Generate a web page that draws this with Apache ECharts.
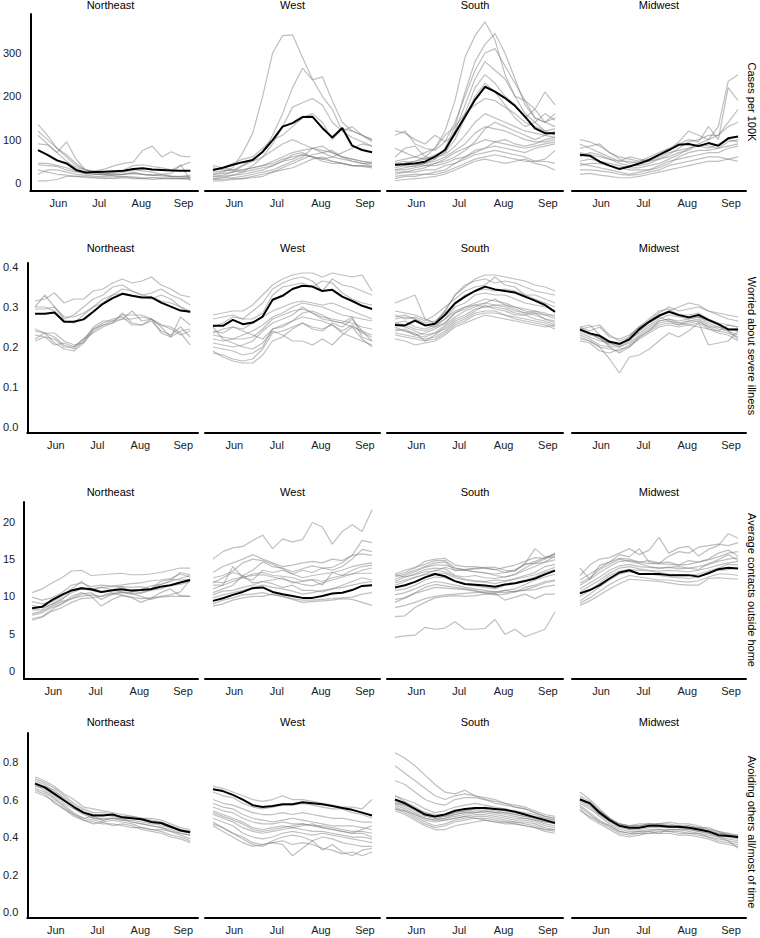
<!DOCTYPE html>
<html><head><meta charset="utf-8">
<script src="https://cdn.jsdelivr.net/npm/echarts@6/dist/echarts.min.js"></script>
<style>html,body{margin:0;padding:0;background:#fff}#c{width:760px;height:938px}</style>
</head><body><div id="c"></div>
<script>
// ---------- labels ----------
const regions = ['Northeast', 'West', 'South', 'Midwest'];
const rowLabels = ['Cases per 100K', 'Worried about severe illness', 'Average contacts outside home', 'Avoiding others all/most of time'];
const weekStarts = ['2020-05-17','2020-05-24','2020-05-31','2020-06-07','2020-06-14','2020-06-21','2020-06-28','2020-07-05','2020-07-12','2020-07-19','2020-07-26','2020-08-02','2020-08-09','2020-08-16','2020-08-23','2020-08-30','2020-09-06'];
const monthTicks = ['2020-06-01', '2020-07-01', '2020-08-01', '2020-09-01'];
const monthLabels = ['Jun', 'Jul', 'Aug', 'Sep'];
const casesTicks = [0, 100, 200, 300];
const worriedTicks = [0, 0.1, 0.2, 0.3, 0.4];
const contactsTicks = [0, 5, 10, 15, 20];
const avoidTicks = [0, 0.2, 0.4, 0.6, 0.8];

// ---------- Cases per 100K ----------
const casesNortheastAvg = [76,65,52,45,30,24,25,26,27,28,32,34,31,30,29,28,28];
const casesNortheastStates = [
 [135,110,80,60,40,30,25,20,18,20,22,20,18,16,15,14,13],
 [120,100,80,65,45,30,22,18,15,14,14,12,12,10,10,10,12],
 [110,90,70,95,55,30,25,22,20,20,25,20,18,18,15,14,15],
 [90,88,70,50,35,30,28,32,40,45,48,75,85,60,72,62,60],
 [45,45,40,35,28,22,20,20,25,30,40,42,38,35,30,40,48],
 [42,40,38,30,25,22,20,20,22,25,30,28,25,20,22,42,5],
 [20,30,30,25,20,18,15,15,18,20,22,20,18,20,15,15,18],
 [5,5,8,15,15,15,12,10,12,15,12,10,8,10,12,10,10],
 [30,25,20,18,15,12,12,12,10,12,10,10,12,12,10,10,8]
];
const casesWestAvg = [30,35,42,48,53,72,99,130,138,152,153,127,105,127,86,76,71];
const casesWestStates = [
 [20,25,35,70,115,200,300,340,342,290,240,200,170,120,105,95,85],
 [15,18,25,40,55,70,110,160,220,265,238,245,190,140,120,110,100],
 [10,12,18,25,40,60,90,130,175,185,195,180,140,120,130,110,95],
 [30,35,45,55,60,80,100,110,130,150,160,140,100,125,120,110,100],
 [25,28,30,40,50,60,75,90,100,90,80,70,60,55,50,45,40],
 [20,22,25,30,35,40,50,60,70,75,80,75,70,60,55,50,48],
 [15,15,18,20,25,30,40,50,55,65,60,50,45,45,40,40,38],
 [10,12,12,15,20,25,30,40,50,60,80,85,70,60,50,45,45],
 [5,5,8,10,12,15,25,35,45,55,65,70,75,60,55,50,45],
 [40,35,30,30,35,40,45,55,60,65,60,55,50,45,40,40,38],
 [8,8,10,10,15,20,25,30,35,45,55,60,50,45,40,38,35],
 [35,30,28,25,30,35,40,50,65,70,60,55,60,70,80,90,85]
];
const casesSouthAvg = [42,43,45,49,61,76,115,153,192,222,211,196,178,153,126,115,115];
const casesSouthStates = [
 [40,45,50,60,80,120,190,290,340,372,330,250,200,160,140,120,110],
 [30,35,40,45,55,80,130,210,280,320,345,300,240,180,150,140,130],
 [120,115,100,90,110,95,140,200,260,300,310,270,230,190,170,210,180],
 [60,80,85,60,55,70,120,180,240,280,260,240,200,190,150,140,160],
 [110,120,90,80,75,95,110,160,220,250,230,200,180,150,170,140,150],
 [80,70,60,55,65,70,100,150,200,230,210,180,150,130,140,160,145],
 [50,55,60,70,80,110,130,160,180,195,190,175,160,140,130,120,125],
 [40,45,50,55,60,65,85,110,140,160,150,140,130,120,115,110,120],
 [35,40,38,45,50,60,75,90,115,130,125,120,110,100,95,95,100],
 [20,25,30,35,45,55,70,80,90,100,95,90,85,80,85,90,95],
 [10,15,15,20,25,30,45,60,75,80,85,80,75,70,80,85,90],
 [25,25,25,30,30,40,45,55,65,70,75,70,65,60,50,55,75],
 [15,18,20,20,20,25,35,45,55,60,65,60,55,50,50,50,45],
 [30,30,35,40,45,50,60,75,95,125,140,130,120,110,100,110,105],
 [45,50,45,40,40,45,55,60,70,80,95,100,90,85,90,100,105],
 [5,8,10,12,15,20,30,40,50,55,50,45,50,55,45,40,30]
];
const casesMidwestAvg = [65,63,49,40,32,38,45,53,65,76,88,90,85,92,86,103,107];
const casesMidwestStates = [
 [100,95,85,70,55,45,50,55,65,75,95,120,110,100,130,235,250],
 [80,85,90,70,60,55,50,60,70,80,90,100,95,130,100,220,190],
 [60,70,65,55,45,40,40,45,55,65,80,95,100,110,110,140,170],
 [90,80,70,60,50,50,45,50,60,70,75,80,90,100,110,130,140],
 [50,55,50,45,40,35,35,40,45,55,65,80,85,80,90,100,95],
 [40,45,45,40,35,30,30,30,35,45,60,70,75,75,80,85,90],
 [45,40,35,30,25,20,25,30,40,50,55,60,65,70,70,80,85],
 [30,30,28,25,20,18,20,25,30,40,45,50,55,60,60,55,60],
 [20,22,18,15,12,12,15,20,25,30,35,40,45,50,50,55,50],
 [70,65,60,55,50,60,55,50,55,60,70,75,90,85,80,95,100]
];

// ---------- Worried about severe illness ----------
const worriedNortheastAvg = [0.283,0.283,0.286,0.263,0.263,0.269,0.288,0.308,0.322,0.333,0.328,0.324,0.324,0.311,0.301,0.291,0.288];
const worriedNortheastStates = [
 [0.315,0.32,0.335,0.31,0.32,0.32,0.34,0.345,0.36,0.37,0.36,0.365,0.375,0.355,0.345,0.33,0.325],
 [0.30,0.33,0.30,0.27,0.28,0.30,0.32,0.33,0.35,0.355,0.34,0.33,0.335,0.345,0.33,0.32,0.305],
 [0.295,0.295,0.30,0.275,0.275,0.285,0.30,0.32,0.33,0.345,0.34,0.33,0.325,0.315,0.31,0.30,0.285],
 [0.30,0.30,0.29,0.265,0.26,0.28,0.30,0.31,0.33,0.335,0.33,0.325,0.32,0.33,0.32,0.30,0.29],
 [0.245,0.235,0.235,0.215,0.205,0.21,0.245,0.26,0.27,0.275,0.255,0.255,0.27,0.235,0.225,0.24,0.245],
 [0.24,0.235,0.225,0.205,0.195,0.215,0.25,0.265,0.265,0.27,0.29,0.265,0.27,0.255,0.25,0.235,0.205],
 [0.23,0.225,0.22,0.20,0.20,0.22,0.245,0.255,0.265,0.28,0.28,0.28,0.27,0.25,0.225,0.275,0.255],
 [0.22,0.235,0.21,0.195,0.19,0.21,0.24,0.255,0.26,0.285,0.26,0.255,0.265,0.24,0.23,0.25,0.225],
 [0.215,0.225,0.205,0.21,0.20,0.22,0.235,0.25,0.26,0.27,0.27,0.275,0.27,0.255,0.245,0.23,0.24]
];
const worriedWestAvg = [0.253,0.253,0.268,0.257,0.261,0.276,0.318,0.328,0.345,0.353,0.351,0.340,0.343,0.326,0.315,0.303,0.295];
const worriedWestStates = [
 [0.28,0.285,0.29,0.29,0.305,0.33,0.355,0.37,0.38,0.385,0.385,0.375,0.385,0.38,0.375,0.38,0.34],
 [0.27,0.275,0.28,0.27,0.29,0.31,0.345,0.36,0.37,0.375,0.365,0.34,0.37,0.355,0.35,0.34,0.33],
 [0.25,0.26,0.275,0.27,0.27,0.285,0.33,0.35,0.355,0.36,0.35,0.365,0.36,0.335,0.32,0.31,0.305],
 [0.24,0.235,0.25,0.245,0.26,0.275,0.29,0.30,0.31,0.315,0.31,0.305,0.31,0.30,0.29,0.28,0.27],
 [0.23,0.225,0.22,0.23,0.24,0.255,0.275,0.285,0.30,0.31,0.305,0.30,0.29,0.28,0.275,0.27,0.265],
 [0.22,0.215,0.22,0.22,0.225,0.245,0.27,0.28,0.29,0.295,0.285,0.275,0.27,0.265,0.26,0.25,0.245],
 [0.21,0.205,0.20,0.205,0.215,0.24,0.26,0.27,0.28,0.30,0.285,0.27,0.265,0.26,0.275,0.225,0.215],
 [0.20,0.195,0.19,0.18,0.185,0.20,0.245,0.255,0.265,0.275,0.27,0.265,0.255,0.24,0.255,0.235,0.225],
 [0.185,0.18,0.17,0.165,0.17,0.195,0.235,0.24,0.25,0.26,0.25,0.245,0.255,0.235,0.225,0.215,0.205],
 [0.19,0.175,0.165,0.16,0.16,0.18,0.215,0.225,0.245,0.26,0.245,0.24,0.26,0.25,0.27,0.24,0.215],
 [0.235,0.245,0.25,0.24,0.23,0.22,0.245,0.25,0.265,0.285,0.29,0.28,0.265,0.26,0.25,0.24,0.23],
 [0.25,0.22,0.21,0.20,0.195,0.21,0.24,0.23,0.215,0.215,0.205,0.22,0.205,0.23,0.25,0.22,0.20]
];
const worriedSouthAvg = [0.255,0.254,0.266,0.254,0.258,0.280,0.309,0.326,0.340,0.351,0.344,0.340,0.336,0.326,0.316,0.305,0.288];
const worriedSouthStates = [
 [0.31,0.32,0.33,0.27,0.26,0.29,0.33,0.35,0.37,0.38,0.38,0.375,0.37,0.365,0.355,0.35,0.34],
 [0.29,0.285,0.28,0.27,0.26,0.29,0.33,0.355,0.365,0.37,0.36,0.365,0.36,0.35,0.34,0.335,0.33],
 [0.28,0.27,0.275,0.265,0.28,0.30,0.32,0.34,0.35,0.355,0.375,0.355,0.35,0.33,0.32,0.31,0.30],
 [0.27,0.275,0.27,0.255,0.25,0.27,0.30,0.31,0.33,0.335,0.33,0.33,0.32,0.31,0.305,0.30,0.29],
 [0.26,0.255,0.245,0.24,0.25,0.26,0.285,0.30,0.31,0.32,0.315,0.31,0.30,0.295,0.29,0.285,0.275],
 [0.255,0.25,0.24,0.23,0.235,0.255,0.275,0.29,0.30,0.31,0.305,0.305,0.295,0.285,0.28,0.27,0.26],
 [0.245,0.24,0.235,0.215,0.23,0.25,0.27,0.28,0.295,0.30,0.30,0.295,0.285,0.28,0.27,0.265,0.255],
 [0.24,0.245,0.23,0.225,0.235,0.245,0.265,0.275,0.29,0.305,0.295,0.29,0.28,0.28,0.285,0.27,0.265],
 [0.235,0.23,0.225,0.22,0.225,0.24,0.26,0.27,0.285,0.29,0.29,0.28,0.275,0.27,0.265,0.26,0.25],
 [0.23,0.225,0.22,0.215,0.22,0.235,0.255,0.265,0.28,0.285,0.285,0.28,0.27,0.265,0.26,0.255,0.245],
 [0.26,0.265,0.25,0.245,0.255,0.27,0.29,0.30,0.305,0.31,0.32,0.305,0.30,0.29,0.285,0.28,0.27],
 [0.25,0.24,0.23,0.235,0.245,0.26,0.285,0.295,0.305,0.30,0.305,0.30,0.29,0.285,0.29,0.28,0.28],
 [0.275,0.28,0.27,0.26,0.265,0.285,0.31,0.33,0.34,0.345,0.34,0.345,0.34,0.33,0.33,0.32,0.31],
 [0.22,0.215,0.205,0.21,0.215,0.23,0.25,0.26,0.27,0.28,0.275,0.27,0.265,0.26,0.255,0.25,0.255]
];
const worriedMidwestAvg = [0.244,0.234,0.228,0.213,0.208,0.219,0.244,0.263,0.278,0.288,0.280,0.274,0.280,0.268,0.257,0.244,0.244];
const worriedMidwestStates = [
 [0.25,0.24,0.25,0.225,0.22,0.23,0.25,0.265,0.285,0.30,0.29,0.295,0.30,0.29,0.28,0.27,0.265],
 [0.245,0.25,0.255,0.23,0.215,0.225,0.25,0.27,0.29,0.295,0.28,0.28,0.285,0.27,0.26,0.255,0.25],
 [0.24,0.235,0.22,0.21,0.20,0.215,0.24,0.255,0.27,0.28,0.275,0.27,0.275,0.265,0.255,0.245,0.24],
 [0.235,0.225,0.215,0.21,0.205,0.22,0.235,0.25,0.265,0.27,0.265,0.27,0.275,0.26,0.25,0.245,0.245],
 [0.23,0.22,0.205,0.20,0.20,0.21,0.23,0.245,0.26,0.265,0.26,0.265,0.27,0.255,0.245,0.24,0.23],
 [0.225,0.215,0.20,0.195,0.19,0.205,0.225,0.24,0.255,0.26,0.255,0.26,0.265,0.25,0.24,0.235,0.225],
 [0.215,0.21,0.19,0.185,0.195,0.20,0.22,0.235,0.25,0.255,0.25,0.255,0.26,0.245,0.235,0.23,0.215],
 [0.22,0.215,0.20,0.17,0.135,0.175,0.18,0.195,0.215,0.235,0.225,0.24,0.26,0.205,0.21,0.215,0.24],
 [0.245,0.235,0.22,0.205,0.205,0.225,0.25,0.26,0.275,0.265,0.255,0.265,0.265,0.25,0.25,0.24,0.22],
 [0.25,0.255,0.23,0.215,0.205,0.22,0.245,0.265,0.28,0.29,0.30,0.31,0.305,0.29,0.285,0.28,0.275],
 [0.24,0.23,0.225,0.20,0.185,0.20,0.225,0.24,0.265,0.27,0.26,0.255,0.25,0.245,0.24,0.255,0.25]
];

// ---------- Average contacts outside home ----------
const contactsNortheastAvg = [8.4,8.6,9.5,10.2,10.8,11.1,10.95,10.6,10.8,10.95,10.8,10.85,10.95,11.3,11.5,11.85,12.2];
const contactsNortheastStates = [
 [10.5,11,11.8,12.5,13.4,13.5,12.8,12.9,13,13.1,12.9,12.9,13,13.2,13.5,13.8,13.8],
 [9.9,9.5,9.8,10.5,11.5,11.8,11.3,11.5,11.4,11.5,11.7,11.8,12.1,12.2,12.4,13,12.6],
 [9.3,9,9.3,10,11,12,11,11.2,11.3,11.3,11.2,11.3,11,11.6,12.1,13.2,12.9],
 [8.2,8.2,9,9.7,10.5,11,10.8,10.5,10.8,11.3,10.7,10.5,11,12,12.3,12.2,12.3],
 [7.7,8,8.7,9.3,9.7,10.3,10.5,9.6,10.2,10.5,10.3,10.4,10.8,11,11.5,11.6,12],
 [7.5,7.8,8.5,9,10,10.5,10,8.7,9.5,10.1,9.9,9.2,9.7,10.5,11,10.1,10],
 [7,7.3,8.2,9,9.7,10,10.2,10,10.5,10.2,9.9,9.7,9.8,9.9,10,10,10],
 [6.8,7.2,8,8.5,9.2,9.7,9.8,10,10.3,10.6,10.4,10,9.6,10,10.2,10.6,12.2],
 [8.8,8.5,8.9,9.5,10.8,11.2,10.8,11.2,10.9,10.6,10.5,10.9,11.4,11.6,12,12.4,12.8]
];
const contactsWestAvg = [9.4,9.75,10.2,10.6,11.1,11.2,10.6,10.3,10.05,9.8,9.8,10.05,10.4,10.5,10.85,11.4,11.5];
const contactsWestStates = [
 [15,16,16.5,16.7,17.5,18.2,16.4,17.7,17.3,17.6,19.9,19.3,17,18.7,19.6,18.7,21.6],
 [13.2,14,14.5,15,15.6,15,14.5,14,14.2,14.5,14.7,14.5,15,14.8,15.5,17.5,17.2],
 [12.5,12.8,13.4,14.5,15,14.8,14.3,13.7,13,13.5,13.2,13.8,13.5,14,15,16.3,16],
 [11.8,12.5,13.2,12.8,13.5,14.6,14,13.8,13.3,13.7,14.1,13.8,13.9,14.5,15.5,15.7,15.5],
 [11.5,11.5,14,12.5,12.2,13.5,13.2,13.5,13,12.5,12.8,13,13.2,13.5,14,14.3,14.5],
 [11,11.5,12,12.5,13,13.2,12.8,12.7,12.5,12.1,12.3,12,12.5,12.8,13.5,14,14.2],
 [10.5,11,11.5,12.8,11.8,12,12.2,12.5,11.8,12,12.2,11.5,13.2,12.8,13,13.5,13.8],
 [10.2,10.7,10.8,11.2,11.5,12,11.7,11.2,11.5,10.8,10.8,10.6,11,11.5,12,12.5,12.2],
 [9.8,10.2,10.5,10.8,11.2,11.5,11.2,11,10.7,10.3,10.5,10.8,11,11.2,11.5,11.8,12],
 [9,9.5,9.8,10.2,10.3,10.5,10.2,10,9.7,9.5,9.5,9.6,9.7,9.8,9.9,10.3,10.5],
 [8.7,9,9.5,9.8,10,10,10.3,10,9.6,9.2,9.3,9.4,9.5,9.7,9.6,9.2,8.8],
 [12,11.8,12.3,12.6,12.8,12.9,12.6,12.3,12,11.6,11.4,11.8,12.2,12.6,13,13.1,13.1]
];
const contactsSouthAvg = [11.2,11.5,11.95,12.55,13,12.7,12.05,11.65,11.55,11.45,11.3,11.6,11.75,12.05,12.4,12.95,13.45];
const contactsSouthStates = [
 [4.5,4.7,4.8,5.85,5.6,5.75,6.6,5.6,5.6,5.7,6.9,4.9,5.6,4.6,5.1,5.6,7.95],
 [7.3,7.4,8.5,9.2,9.8,10,10.1,10,10.1,10.3,10.4,9.5,9.9,10.3,9.7,10.3,10.3],
 [8.5,8.8,9.2,9.7,10,10.2,10.3,10.4,10.5,10.6,10.6,10.5,10.7,10.8,10.9,11.3,11.5],
 [9.6,9.8,10.4,10.8,11.2,11.1,11,10.9,10.7,10.5,10.4,10.8,10.6,11.2,11.5,12,12.2],
 [10.2,10.5,11,11.6,12,11.8,11.5,11.2,11,10.8,10.6,10.8,11,11.6,12.2,12.6,13],
 [10.8,11,11.5,12.2,12.6,12.5,12,11.6,11.4,11.2,11,11.5,11.8,12.2,12.6,13.2,13.6],
 [11.5,12,12.5,13,13.5,13.3,12.7,12.3,12.1,12,12.2,12.1,12.4,12.8,13.2,14,14.3],
 [12,12.6,13,13.6,13.8,13.7,12.8,12.6,12.8,12.5,12.4,12.6,12.9,13.5,14,14.6,15.4],
 [12.6,13,13.5,14,14.5,14.6,13.5,13.5,13.3,13.2,12.8,12.6,13,13.8,14.5,15,15.8],
 [13,13.5,13.9,14.3,14.8,14.8,13.8,13.6,13.8,13.9,13.9,13.5,13.4,14.4,16.4,15.3,15.2],
 [12.3,12.8,13.3,13.9,14.2,14.2,13.8,13.5,13.3,13.1,13,13.2,13.6,14.2,14.7,15.2,15.7],
 [12.8,13.2,13.8,14.7,15,15.1,14.2,14,14,13.8,13.6,13.9,14.2,14.7,15.2,15.1,15.6],
 [11.8,12.2,12.6,12.9,13.1,13.1,12.5,12.2,12,11.9,11.7,12,12.3,12.6,12.9,13.4,13.9],
 [12.9,12.6,12.9,13.3,13.4,13.9,13.5,13.6,13.7,13.8,13.6,13.2,13.4,14.4,14.4,14.6,14.9],
 [9.2,9.8,10.5,11.2,11.6,11.4,11.2,11,10.8,10.4,10.2,10.3,10.6,10.9,11.3,11.8,12.1]
];
const contactsMidwestAvg = [10.4,10.85,11.5,12.4,13.2,13.5,13,13,13,12.85,12.85,12.85,12.65,13.1,13.65,13.85,13.75];
const contactsMidwestStates = [
 [12.8,14.2,15,15.2,15.8,16.4,15.6,16.2,17.9,15.8,16.5,16.7,15.4,16.3,16.8,18.4,17.8],
 [13.8,12.3,14.2,14.6,15.6,15.3,16.4,14.6,14.4,15.4,16,15.8,16.6,16.8,17,16.8,17.2],
 [11.5,12.3,13.2,14,14.7,14.8,14.6,14.4,14.4,14.3,14.2,14.3,14.6,14.9,15.3,15.8,16],
 [11,11.8,12.6,13.5,14.1,14.3,14,13.9,13.8,13.9,13.7,13.8,14,14.3,14.7,15,15.2],
 [10.6,11.4,12.2,13.1,13.8,14,13.7,13.5,13.4,13.5,13.4,13.3,13.5,13.8,14.2,14.5,14.7],
 [10,10.8,11.8,12.8,13.4,13.6,13.5,13.4,13.2,13,12.9,12.8,13,13.4,13.8,14.3,14.2],
 [9.4,10.3,11.3,12.2,13,13.3,13.1,13,12.8,12.6,12.5,12.4,12.6,13.2,13.5,13.6,13.8],
 [9.1,9.8,10.7,11.6,12.3,12.8,12.6,12.4,12.2,12.2,12,11.9,12.1,12.6,13,13,12.8],
 [8.8,9.4,10.2,11,11.7,12.3,12.2,12.1,12,11.8,11.6,11.5,11.5,12.4,12.5,12.4,12.3],
 [11.8,12.5,13.6,14.3,15,14.7,14.4,14,13.8,13.9,14,13.8,13.6,14.4,14.9,15.6,14.8],
 [12.2,13,13.8,14.6,15.1,15,14.6,14.8,14.5,14.6,14.2,14.8,14.6,15,15.8,16.2,15.4]
];

// ---------- Avoiding others all/most of time ----------
const avoidNortheastAvg = [0.685,0.665,0.63,0.595,0.56,0.53,0.515,0.515,0.52,0.505,0.50,0.495,0.48,0.475,0.455,0.435,0.425];
const avoidNortheastStates = [
 [0.71,0.69,0.66,0.62,0.58,0.55,0.53,0.53,0.52,0.51,0.51,0.50,0.49,0.48,0.46,0.44,0.43],
 [0.69,0.67,0.65,0.60,0.56,0.53,0.50,0.50,0.50,0.49,0.49,0.48,0.47,0.47,0.45,0.43,0.42],
 [0.67,0.66,0.62,0.58,0.55,0.52,0.50,0.49,0.50,0.49,0.48,0.47,0.46,0.45,0.44,0.42,0.41],
 [0.72,0.70,0.67,0.63,0.60,0.56,0.55,0.54,0.53,0.52,0.51,0.50,0.50,0.49,0.47,0.45,0.44],
 [0.66,0.64,0.60,0.57,0.53,0.50,0.49,0.48,0.49,0.48,0.47,0.45,0.44,0.44,0.43,0.41,0.39],
 [0.68,0.65,0.61,0.56,0.52,0.50,0.51,0.49,0.50,0.50,0.48,0.47,0.46,0.45,0.43,0.42,0.41],
 [0.64,0.62,0.59,0.55,0.52,0.49,0.48,0.47,0.47,0.46,0.45,0.45,0.44,0.43,0.41,0.40,0.38],
 [0.70,0.68,0.64,0.61,0.57,0.54,0.52,0.52,0.51,0.50,0.50,0.49,0.48,0.46,0.45,0.44,0.43],
 [0.65,0.63,0.58,0.55,0.51,0.49,0.47,0.48,0.46,0.47,0.46,0.44,0.43,0.42,0.40,0.39,0.37]
];
const avoidWestAvg = [0.655,0.645,0.625,0.60,0.57,0.56,0.565,0.575,0.575,0.585,0.58,0.575,0.565,0.555,0.545,0.53,0.515];
const avoidWestStates = [
 [0.67,0.66,0.64,0.62,0.60,0.59,0.60,0.62,0.60,0.60,0.59,0.58,0.57,0.56,0.56,0.55,0.60],
 [0.64,0.62,0.61,0.58,0.56,0.55,0.56,0.57,0.57,0.58,0.57,0.56,0.55,0.55,0.53,0.52,0.50],
 [0.60,0.58,0.57,0.55,0.53,0.52,0.52,0.53,0.52,0.53,0.52,0.51,0.50,0.50,0.49,0.48,0.48],
 [0.56,0.54,0.53,0.50,0.48,0.47,0.47,0.48,0.47,0.47,0.46,0.46,0.45,0.44,0.43,0.43,0.42],
 [0.54,0.52,0.50,0.48,0.45,0.44,0.45,0.46,0.45,0.46,0.47,0.45,0.44,0.43,0.42,0.42,0.40],
 [0.52,0.50,0.48,0.45,0.43,0.42,0.43,0.44,0.45,0.44,0.43,0.43,0.42,0.41,0.40,0.40,0.39],
 [0.50,0.48,0.46,0.42,0.40,0.39,0.40,0.42,0.43,0.42,0.41,0.42,0.41,0.40,0.39,0.38,0.37],
 [0.48,0.45,0.42,0.39,0.36,0.35,0.38,0.40,0.41,0.40,0.38,0.40,0.39,0.37,0.36,0.35,0.35],
 [0.46,0.43,0.40,0.37,0.35,0.36,0.37,0.36,0.30,0.34,0.38,0.33,0.36,0.32,0.30,0.33,0.34],
 [0.58,0.56,0.55,0.52,0.50,0.49,0.48,0.49,0.50,0.49,0.48,0.47,0.46,0.46,0.46,0.45,0.44],
 [0.53,0.51,0.49,0.47,0.44,0.43,0.44,0.45,0.46,0.47,0.46,0.45,0.44,0.43,0.42,0.44,0.46],
 [0.47,0.45,0.42,0.40,0.37,0.36,0.37,0.38,0.36,0.37,0.36,0.34,0.33,0.31,0.32,0.30,0.32]
];
const avoidSouthAvg = [0.60,0.58,0.55,0.52,0.51,0.52,0.54,0.55,0.555,0.555,0.55,0.545,0.535,0.52,0.505,0.49,0.475];
const avoidSouthStates = [
 [0.85,0.82,0.78,0.73,0.68,0.64,0.63,0.65,0.62,0.60,0.59,0.58,0.56,0.55,0.53,0.51,0.50],
 [0.78,0.74,0.70,0.66,0.62,0.60,0.62,0.63,0.62,0.61,0.60,0.58,0.57,0.56,0.54,0.52,0.51],
 [0.70,0.68,0.64,0.60,0.58,0.57,0.60,0.61,0.61,0.60,0.58,0.57,0.56,0.55,0.53,0.51,0.50],
 [0.62,0.60,0.58,0.55,0.53,0.54,0.56,0.57,0.58,0.57,0.56,0.55,0.54,0.53,0.52,0.50,0.49],
 [0.60,0.58,0.55,0.52,0.50,0.51,0.53,0.54,0.55,0.55,0.54,0.53,0.52,0.51,0.50,0.48,0.47],
 [0.58,0.56,0.53,0.50,0.49,0.50,0.52,0.53,0.53,0.54,0.53,0.52,0.51,0.50,0.49,0.47,0.46],
 [0.57,0.55,0.52,0.49,0.48,0.49,0.50,0.51,0.52,0.52,0.51,0.50,0.49,0.49,0.48,0.46,0.45],
 [0.56,0.54,0.51,0.48,0.46,0.47,0.49,0.50,0.51,0.51,0.50,0.49,0.48,0.48,0.47,0.45,0.44],
 [0.55,0.53,0.50,0.47,0.45,0.46,0.48,0.49,0.50,0.50,0.49,0.48,0.48,0.47,0.46,0.44,0.43],
 [0.54,0.52,0.49,0.46,0.44,0.44,0.46,0.47,0.48,0.49,0.48,0.47,0.47,0.46,0.45,0.43,0.42],
 [0.58,0.57,0.54,0.51,0.50,0.50,0.51,0.52,0.53,0.53,0.52,0.51,0.50,0.50,0.49,0.48,0.48],
 [0.62,0.59,0.56,0.53,0.51,0.51,0.52,0.53,0.54,0.54,0.53,0.53,0.52,0.51,0.50,0.49,0.48],
 [0.55,0.54,0.52,0.50,0.49,0.49,0.50,0.51,0.50,0.49,0.48,0.48,0.47,0.46,0.45,0.44,0.44],
 [0.59,0.57,0.55,0.53,0.52,0.52,0.53,0.54,0.55,0.56,0.55,0.54,0.53,0.52,0.51,0.50,0.49]
];
const avoidMidwestAvg = [0.60,0.58,0.53,0.49,0.46,0.45,0.45,0.46,0.46,0.455,0.455,0.45,0.44,0.43,0.41,0.405,0.40];
const avoidMidwestStates = [
 [0.64,0.60,0.55,0.50,0.47,0.46,0.46,0.47,0.47,0.47,0.46,0.46,0.45,0.44,0.42,0.42,0.41],
 [0.62,0.59,0.54,0.50,0.47,0.46,0.47,0.47,0.46,0.46,0.46,0.45,0.45,0.43,0.42,0.41,0.40],
 [0.60,0.58,0.53,0.49,0.46,0.45,0.45,0.46,0.46,0.46,0.45,0.45,0.44,0.43,0.42,0.41,0.40],
 [0.59,0.56,0.52,0.48,0.45,0.44,0.44,0.45,0.45,0.45,0.45,0.44,0.43,0.42,0.41,0.40,0.39],
 [0.58,0.55,0.51,0.47,0.44,0.43,0.43,0.44,0.44,0.44,0.44,0.43,0.42,0.41,0.40,0.39,0.38],
 [0.57,0.53,0.49,0.46,0.43,0.42,0.42,0.43,0.44,0.43,0.43,0.42,0.42,0.40,0.39,0.38,0.37],
 [0.56,0.52,0.48,0.45,0.42,0.41,0.42,0.42,0.43,0.43,0.42,0.42,0.41,0.40,0.38,0.37,0.36],
 [0.55,0.50,0.47,0.44,0.41,0.40,0.41,0.42,0.42,0.42,0.41,0.41,0.40,0.39,0.37,0.36,0.35],
 [0.60,0.57,0.52,0.49,0.47,0.46,0.46,0.47,0.47,0.48,0.47,0.47,0.46,0.44,0.43,0.41,0.41],
 [0.61,0.58,0.54,0.50,0.46,0.44,0.45,0.46,0.47,0.46,0.45,0.46,0.45,0.45,0.43,0.42,0.39],
 [0.54,0.51,0.48,0.46,0.43,0.42,0.43,0.43,0.42,0.44,0.44,0.44,0.43,0.42,0.40,0.38,0.34]
];

// ---------- layout ----------
const FONT = '"Liberation Sans", Arial, Helvetica, sans-serif';
const colLeft = [23, 205, 387, 572];
const colWidth = [175, 175, 176, 174];
const rowTop = [14, 263, 502, 733];
const rowBottom = [191, 433, 679, 918];
const rowMin = [-18.6, -0.015, -1.07, -0.032];
const rowMax = [390, 0.41, 22.65, 0.955];
const titleY = [5, 247.5, 491.5, 722];
const rowLabelY = [102, 346, 590, 832];
const rowTicks = [casesTicks, worriedTicks, contactsTicks, avoidTicks];
const rowFmt = [v => String(Math.round(v)), v => v.toFixed(1), v => String(Math.round(v)), v => v.toFixed(1)];
const panels = [
  [[casesNortheastStates, casesNortheastAvg], [casesWestStates, casesWestAvg], [casesSouthStates, casesSouthAvg], [casesMidwestStates, casesMidwestAvg]],
  [[worriedNortheastStates, worriedNortheastAvg], [worriedWestStates, worriedWestAvg], [worriedSouthStates, worriedSouthAvg], [worriedMidwestStates, worriedMidwestAvg]],
  [[contactsNortheastStates, contactsNortheastAvg], [contactsWestStates, contactsWestAvg], [contactsSouthStates, contactsSouthAvg], [contactsMidwestStates, contactsMidwestAvg]],
  [[avoidNortheastStates, avoidNortheastAvg], [avoidWestStates, avoidWestAvg], [avoidSouthStates, avoidSouthAvg], [avoidMidwestStates, avoidMidwestAvg]]
];

const toTime = d => +new Date(d + 'T00:00:00');
const t0 = toTime(weekStarts[0]);
const t1 = toTime(weekStarts[weekStarts.length - 1]);
const pad = (t1 - t0) * 0.05;
const monthTimes = monthTicks.map(toTime);
const toPairs = arr => arr.map((v, i) => [toTime(weekStarts[i]), v]);
const monthName = v => { let b = 0, bd = Infinity; monthTimes.forEach((m, i) => { const d = Math.abs(m - v); if (d < bd) { bd = d; b = i; } }); return monthLabels[b]; };

const grid = [], xAxis = [], yAxis = [], series = [], graphic = [];
for (let r = 0; r < 4; r++) {
  for (let c = 0; c < 4; c++) {
    const idx = r * 4 + c;
    grid.push({ left: colLeft[c], top: rowTop[r], width: colWidth[c], height: rowBottom[r] - rowTop[r], containLabel: false });
    xAxis.push({
      type: 'value', gridIndex: idx, min: t0 - pad, max: t1 + pad, scale: true,
      axisLine: { show: true, onZero: false, lineStyle: { color: '#000', width: 2 } },
      axisTick: { show: false }, splitLine: { show: false },
      axisLabel: { customValues: monthTimes, formatter: monthName, color: '#1a1a1a', fontSize: 11, fontFamily: FONT, margin: 6, showMinLabel: true, showMaxLabel: true }
    });
    yAxis.push({
      type: 'value', gridIndex: idx, min: rowMin[r], max: rowMax[r], show: c === 0,
      axisLine: { show: c === 0, onZero: false, lineStyle: { color: '#000', width: 2 } },
      axisTick: { show: false }, splitLine: { show: false },
      axisLabel: { show: c === 0, customValues: rowTicks[r], formatter: rowFmt[r], color: '#1a1a1a', fontSize: 11, fontFamily: FONT, margin: 9 }
    });
    const [states, avg] = panels[r][c];
    states.forEach(s => series.push({
      type: 'line', xAxisIndex: idx, yAxisIndex: idx, data: toPairs(s), symbol: 'none', silent: true,
      lineStyle: { color: '#808080', opacity: 0.5, width: 1.2 }, z: 2
    }));
    series.push({
      type: 'line', xAxisIndex: idx, yAxisIndex: idx, data: toPairs(avg), symbol: 'none', silent: true,
      lineStyle: { color: '#000', width: 2 }, z: 5
    });
    graphic.push({
      type: 'text', x: colLeft[c] + colWidth[c] / 2, y: titleY[r], silent: true,
      style: { text: regions[c], fill: '#000', font: '11px ' + FONT, align: 'center', verticalAlign: 'middle' }
    });
  }
  graphic.push({
    type: 'text', x: 752, y: rowLabelY[r], rotation: -Math.PI / 2, silent: true,
    style: { text: rowLabels[r], fill: '#000', font: '11px ' + FONT, align: 'center', verticalAlign: 'middle' }
  });
}

const chart = echarts.init(document.getElementById('c'), null, { renderer: 'svg', width: 760, height: 938 });
chart.setOption({ animation: false, backgroundColor: '#fff', grid, xAxis, yAxis, series, graphic });
</script></body></html>
